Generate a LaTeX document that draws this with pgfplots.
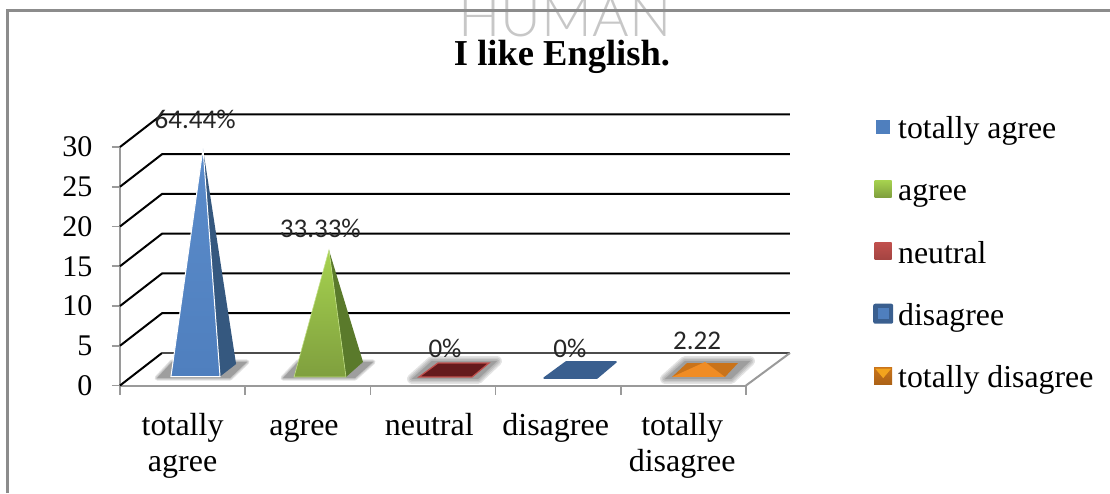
\documentclass[border=0pt]{standalone}
\usepackage{fontspec}
\usepackage{pgfplots}
\pgfplotsset{compat=1.18}
\setmainfont{Liberation Serif}
\newfontfamily\lblfont{Carlito}
\newfontfamily\wmfont{Lato Light}

\definecolor{axisgray}{HTML}{9A9A9A}
\definecolor{framegray}{HTML}{8C8C8C}
\definecolor{blueA}{HTML}{5B8CCB}
\definecolor{blueB}{HTML}{4F7FBE}
\definecolor{blueS}{HTML}{35587F}
\definecolor{greenA}{HTML}{A6D24F}
\definecolor{greenB}{HTML}{7F9F3E}
\definecolor{greenS}{HTML}{5A7A2B}
\definecolor{redF}{HTML}{651A1C}
\definecolor{redE}{HTML}{C0504D}
\definecolor{navyF}{HTML}{3A5F8F}
\definecolor{orangeA}{HTML}{F08C24}
\definecolor{orangeB}{HTML}{C9731A}

\pgfplotsset{
  wall/.style={forget plot, no markers, black, line width=2pt},
  floor/.style={forget plot, no markers, axisgray, line width=2pt},
  shadow/.style={forget plot, no markers, draw=black!60, line join=round, line width=#1, opacity=.18},
  shadowcore/.style={forget plot, no markers, draw=none, fill=black!38},
  swatch/.style n args={3}{legend image code/.code={
    \path[draw=none, #3] (-#1,-#2) rectangle (#1,#2);}},
}

\begin{document}
\begin{tikzpicture}
\path[use as bounding box] (0,0) rectangle (1110pt,493pt);
\node[anchor=base, font=\wmfont\fontsize{56}{58}\selectfont, text=black!22, inner sep=0pt] at (565pt,456pt) {HUMAN};
\draw[framegray, line width=3pt] (7pt,0pt) -- (7pt,482pt) -- (1110pt,482pt);
\begin{axis}[
  at={(120pt,107.5pt)}, anchor=south west,
  scale only axis, width=626pt, height=238.5pt,
  xmin=0, xmax=5, ymin=0, ymax=30,
  clip=false,
  axis lines*=left,
  axis line style={draw=axisgray, line width=2pt, -},
  tick align=outside,
  ytick={0,5,...,30},
  major tick length=8pt, minor tick length=9pt,
  y tick style={draw=axisgray, line width=1.6pt},
  xtick={0.5,1.47,2.47,3.48,4.49},
  minor xtick={0,1,2,3,4,5},
  major x tick style={draw=none},
  minor x tick style={draw=axisgray, line width=1.6pt},
  xticklabels={\strut totally\\agree,\strut agree,\strut neutral,\strut disagree,\strut totally\\disagree},
  xticklabel style={align=center, anchor=north, yshift=-13pt, font=\fontsize{32}{36}\selectfont},
  yticklabel style={font=\fontsize{30}{36}\selectfont, xshift=-16pt},
  /pgf/number format/assume math mode=true,
  legend cell align=left,
  legend style={at={(axis description cs:1.2029,1.151)}, anchor=north west,
    draw=none, fill=none, inner sep=0pt, row sep=31.7pt, column sep=3pt,
    font=\fontsize{31.8}{36}\selectfont},
]
% back wall, value lines shifted back by the depth of the floor
\addplot[wall] coordinates {(0,0) (0.3355,4.09)};
\addplot[forget plot, no markers, black!70, line width=2pt] coordinates {(0.3355,4.09) (5.351,4.09)};
\addplot[wall] coordinates {(0,5) (0.3355,9.09) (5.351,9.09)};
\addplot[wall] coordinates {(0,10) (0.3355,14.09) (5.351,14.09)};
\addplot[wall] coordinates {(0,15) (0.3355,19.09) (5.351,19.09)};
\addplot[wall] coordinates {(0,20) (0.3355,24.09) (5.351,24.09)};
\addplot[wall] coordinates {(0,25) (0.3355,29.09) (5.351,29.09)};
\addplot[wall] coordinates {(0,30) (0.3355,34.09) (5.351,34.09)};
\addplot[floor] coordinates {(5,0) (5.351,4.09)};

% floor shadows
\pgfplotsinvokeforeach{5pt,3pt,1pt}{
\addplot[shadow=#1] coordinates {(0.296,0.94) (0.879,0.94) (1.014,2.96) (0.415,2.96)} --cycle;
\addplot[shadow=#1] coordinates {(1.302,0.94) (1.877,0.94) (2.021,2.96) (1.422,2.96)} --cycle;
}
\addplot[shadowcore] coordinates {(0.296,0.94) (0.879,0.94) (1.014,2.96) (0.415,2.96)} --cycle;
\addplot[shadowcore] coordinates {(1.302,0.94) (1.877,0.94) (2.021,2.96) (1.422,2.96)} --cycle;
\pgfplotsinvokeforeach{10pt,7pt,4pt,1pt}{
\addplot[shadow=#1] coordinates {(2.332,0.82) (2.859,0.82) (3.011,3.08) (2.492,3.08)} --cycle;
\addplot[shadow=#1] coordinates {(4.353,0.82) (4.880,0.82) (5.032,3.08) (4.513,3.08)} --cycle;
}
\addplot[shadowcore] coordinates {(2.332,0.82) (2.859,0.82) (3.011,3.08) (2.492,3.08)} --cycle;
\addplot[shadowcore] coordinates {(4.353,0.82) (4.880,0.82) (5.032,3.08) (4.513,3.08)} --cycle;

% totally agree
\addplot[forget plot, no markers, draw=none, fill=blueS] coordinates {(0.799,1.13) (0.927,2.70) (0.663,29.8)} --cycle;
\addplot[forget plot, no markers, draw=white, line width=1pt, bottom color=blueB, top color=blueA] coordinates {(0.407,1.13) (0.799,1.13) (0.663,29.8)} --cycle;
% agree
\addplot[forget plot, no markers, draw=none, fill=greenS] coordinates {(1.805,1.07) (1.941,2.96) (1.669,17.04)} --cycle;
\addplot[forget plot, no markers, draw=greenA!70!white, line width=.6pt, bottom color=greenB, top color=greenA] coordinates {(1.390,1.07) (1.805,1.07) (1.669,17.04)} --cycle;
% neutral
\addplot[forget plot, no markers, draw=redE, line width=1.2pt, fill=redF] coordinates {(2.388,1.07) (2.812,1.07) (2.947,2.83) (2.540,2.83)} --cycle;
% disagree
\addplot[forget plot, no markers, draw=navyF, line width=1.5pt, line join=round, fill=navyF] coordinates {(3.387,0.94) (3.810,0.94) (3.962,2.96) (3.562,2.96)} --cycle;
% totally disagree
\addplot[forget plot, no markers, draw=none, fill=orangeB] coordinates {(4.409,1.07) (4.832,1.07) (4.936,2.83) (4.529,2.83)} --cycle;
\addplot[forget plot, no markers, draw=none, fill=orangeA] coordinates {(4.409,1.07) (4.832,1.07) (4.673,2.96)} --cycle;

% data labels
\node[font=\lblfont\fontsize{27}{30}\selectfont, text=black!85] at (axis cs:0.6,33.5) {64.44\%};
\node[font=\lblfont\fontsize{27}{30}\selectfont, text=black!85] at (axis cs:1.6,19.7) {33.33\%};
\node[font=\lblfont\fontsize{27}{30}\selectfont, text=black!85] at (axis cs:2.596,4.7) {0\%};
\node[font=\lblfont\fontsize{27}{30}\selectfont, text=black!85] at (axis cs:3.594,4.7) {0\%};
\node[font=\lblfont\fontsize{27}{30}\selectfont, text=black!85] at (axis cs:4.609,5.6) {2.22};
% chart title
\node[font=\bfseries\fontsize{36.5}{40}\selectfont] at (axis cs:3.53,41.4) {I like English.};

\addlegendimage{swatch={7pt}{7pt}{fill=blueB}}
\addlegendentry{\strut totally agree}
\addlegendimage{swatch={8.5pt}{8.5pt}{bottom color=greenB, top color=greenA}}
\addlegendentry{\strut agree}
\addlegendimage{swatch={8.5pt}{8.5pt}{bottom color=redE!85!black, top color=redE}}
\addlegendentry{\strut neutral}
\addlegendimage{legend image code/.code={
  \path[draw=none, fill=navyF, rounded corners=2pt] (-10pt,-10pt) rectangle (10pt,10pt);
  \path[draw=none, fill=blueB] (-5.5pt,-5.5pt) rectangle (5.5pt,5.5pt);}}
\addlegendentry{\strut disagree}
\addlegendimage{legend image code/.code={
  \path[draw=none, bottom color=orangeB!85!black, top color=orangeB] (-9pt,-8.5pt) rectangle (9pt,8.5pt);
  \path[draw=none, fill=orangeA!80!yellow] (-8pt,7.5pt) -- (8pt,7.5pt) -- (0pt,-2pt) -- cycle;}}
\addlegendentry{\strut totally disagree}
\end{axis}
\end{tikzpicture}
\end{document}
